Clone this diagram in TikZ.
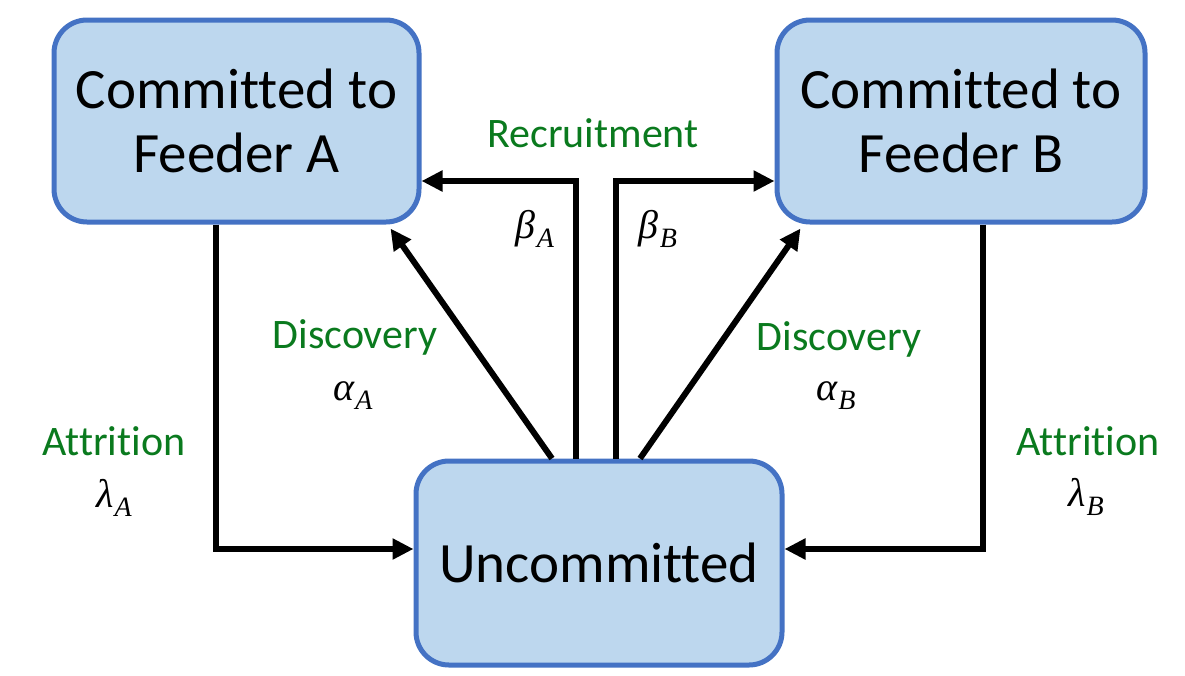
\documentclass[tikz,border=0pt]{standalone}
\usepackage{fontspec}
\setmainfont{Carlito}[Ligatures={NoCommon}]
\newfontfamily\symfont{Liberation Serif}
\newcommand{\symsub}[2]{{\symfont\itshape\fontsize{40}{44}\selectfont #1\kern1pt\raisebox{-9pt}{\fontsize{28}{30}\selectfont #2}}}
\usetikzlibrary{arrows.meta}
\definecolor{boxfill}{HTML}{BDD7EE}
\definecolor{boxline}{HTML}{4472C4}
\definecolor{lblgreen}{RGB}{10,122,30}
\tikzset{
  statebox/.style={draw=boxline, fill=boxfill, line width=5pt, rounded corners=33pt,
    inner sep=0pt, align=center, font=\fontsize{57}{64}\selectfont},
  arr/.style={draw=black, line width=6pt, -{Triangle[length=21pt,width=20pt]}},
  glabel/.style={anchor=base, text=lblgreen, inner sep=0pt, font=\fontsize{42}{48}\selectfont},
  mlabel/.style={anchor=base, inner sep=0pt}
}
\begin{document}
\begin{tikzpicture}[x=1pt,y=-1pt]
\useasboundingbox[fill=white] (0,0) rectangle (1185,675);
\node[statebox, minimum width=365pt, minimum height=202pt] (A) at (236.5,121) {Committed to\\Feeder A};
\node[statebox, minimum width=368pt, minimum height=202pt] (B) at (961,121) {Committed to\\Feeder B};
\node[statebox, minimum width=366pt, minimum height=204pt] (U) at (599,563) {Uncommitted};

% attrition
\draw[arr] ([xshift=-20.5pt]A.south) |- ([yshift=14pt]U.west);
\draw[arr] ([xshift=22pt]B.south) |- ([yshift=14pt]U.east);
% recruitment
\draw[arr] ([xshift=-23pt]U.north) |- ([yshift=-60pt]A.east);
\draw[arr] ([xshift=17pt]U.north) |- ([yshift=-60pt]B.west);
% discovery
\draw[arr] ([xshift=-47pt]U.north) -- ([xshift=-31pt,yshift=-4pt]A.south east);
\draw[arr] ([xshift=41pt]U.north) -- ([xshift=26pt,yshift=-4pt]B.south west);

% labels
\node[glabel] (rec) at (593,147) {Recruitment};
\node[mlabel] (bA) at (535,238) {\symsub{β}{A}};
\node[mlabel] (bB) at (658,238) {\symsub{β}{B}};
\node[glabel] (dA) at (355,348) {Discovery};
\node[mlabel] (aA) at (353,400) {\symsub{α}{A}};
\node[glabel] (dB) at (839,350) {Discovery};
\node[mlabel] (aB) at (836,400) {\symsub{α}{B}};
\node[glabel] (tA) at (114,455) {Attrition};
\node[mlabel] (lA) at (114,507) {\symsub{λ}{A}};
\node[glabel] (tB) at (1088,455) {Attrition};
\node[mlabel] (lB) at (1086,506) {\symsub{λ}{B}};
\end{tikzpicture}
\end{document}
